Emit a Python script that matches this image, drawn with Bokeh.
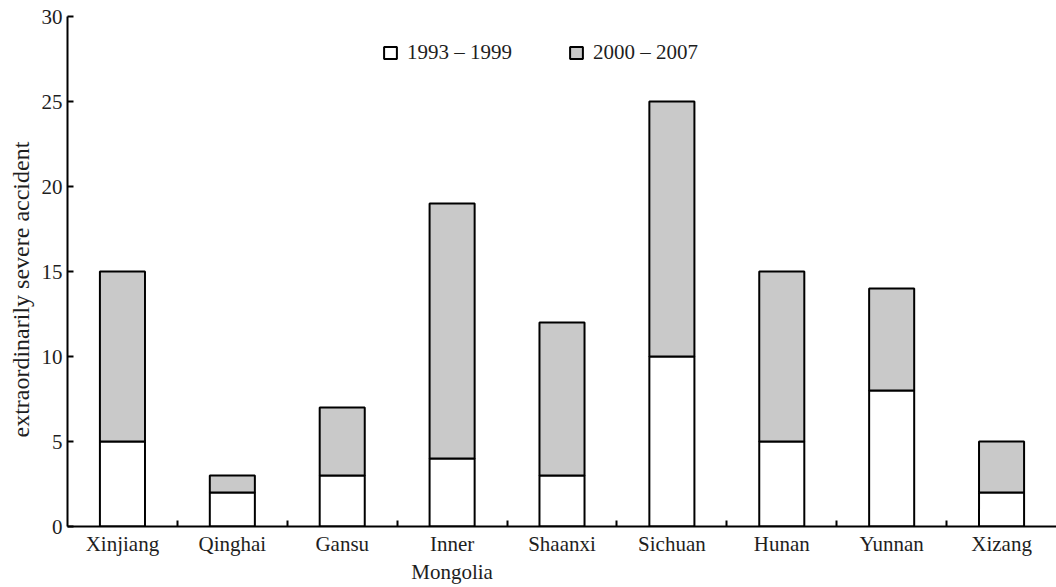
from bokeh.plotting import figure
from bokeh.models import FixedTicker, Range1d, Legend, LegendItem, Title
from bokeh.embed import file_html
from bokeh.resources import INLINE

# Extraordinarily severe accidents by province, two periods
regions = ["Xinjiang", "Qinghai", "Gansu", "Inner\nMongolia", "Shaanxi",
           "Sichuan", "Hunan", "Yunnan", "Xizang"]
period_1993_1999 = [5, 2, 3, 4, 3, 10, 5, 8, 2]
period_2000_2007 = [10, 1, 4, 15, 9, 15, 10, 6, 3]
y_ticks = [0, 5, 10, 15, 20, 25, 30]

FONT = "Liberation Serif"
TEXT = "#1e1e1e"

xs = list(range(len(regions)))
totals = [a + b for a, b in zip(period_1993_1999, period_2000_2007)]

p = figure(width=1056, height=587, output_backend="svg", toolbar_location=None,
           x_range=Range1d(-0.5, len(regions) - 0.5), y_range=Range1d(0, 30),
           min_border_left=67, min_border_right=0, min_border_top=16,
           min_border_bottom=61)
p.outline_line_color = None
p.xgrid.visible = False
p.ygrid.visible = False
p.background_fill_color = "white"
p.border_fill_color = "white"

r1 = p.vbar(x=xs, bottom=0, top=period_1993_1999, width=0.41,
            fill_color="white", line_color="black", line_width=2)
r2 = p.vbar(x=xs, bottom=period_1993_1999, top=totals, width=0.41,
            fill_color="#c9c9c9", line_color="black", line_width=2)

# Y axis
ya = p.yaxis[0]
ya.ticker = FixedTicker(ticks=y_ticks, minor_ticks=[])
ya.axis_line_width = 2
ya.major_tick_line_width = 2
ya.major_tick_in = 6
ya.major_tick_out = 0
ya.minor_tick_in = 0
ya.minor_tick_out = 0
ya.major_label_text_font = FONT
ya.major_label_text_font_size = "21px"
ya.major_label_text_color = TEXT
ya.major_label_standoff = 5

# Vertical axis title, starting a little above the frame bottom
ytitle = Title(text="extraordinarily severe accident", align="left",
               offset=89, text_font=FONT, text_font_style="normal",
               text_font_size="24px", text_color=TEXT, standoff=9,
               text_line_height=0.8)
p.add_layout(ytitle, "left")

# X axis: labels at category centres, small ticks between categories
xa = p.xaxis[0]
xa.ticker = FixedTicker(ticks=xs, minor_ticks=[i + 0.5 for i in xs[:-1]])
xa.major_label_overrides = {i: name for i, name in zip(xs, regions)}
xa.axis_line_width = 2
xa.major_tick_in = 0
xa.major_tick_out = 0
xa.minor_tick_in = 6
xa.minor_tick_out = 0
xa.minor_tick_line_width = 2
xa.major_label_text_font = FONT
xa.major_label_text_font_size = "21px"
xa.major_label_text_color = TEXT
xa.major_label_standoff = 5

legend = Legend(items=[LegendItem(label="1993 \u2013 1999", renderers=[r1]),
                       LegendItem(label="2000 \u2013 2007", renderers=[r2])],
                orientation="horizontal", location=(315, 461))
legend.border_line_color = None
legend.background_fill_alpha = 0
legend.label_text_font = FONT
legend.label_text_font_size = "21px"
legend.label_text_color = TEXT
legend.glyph_width = 16
legend.glyph_height = 15
legend.label_standoff = 9
legend.spacing = 56
legend.padding = 4
legend.margin = 0
p.add_layout(legend)

open("out.html", "w").write(file_html(p, INLINE))
